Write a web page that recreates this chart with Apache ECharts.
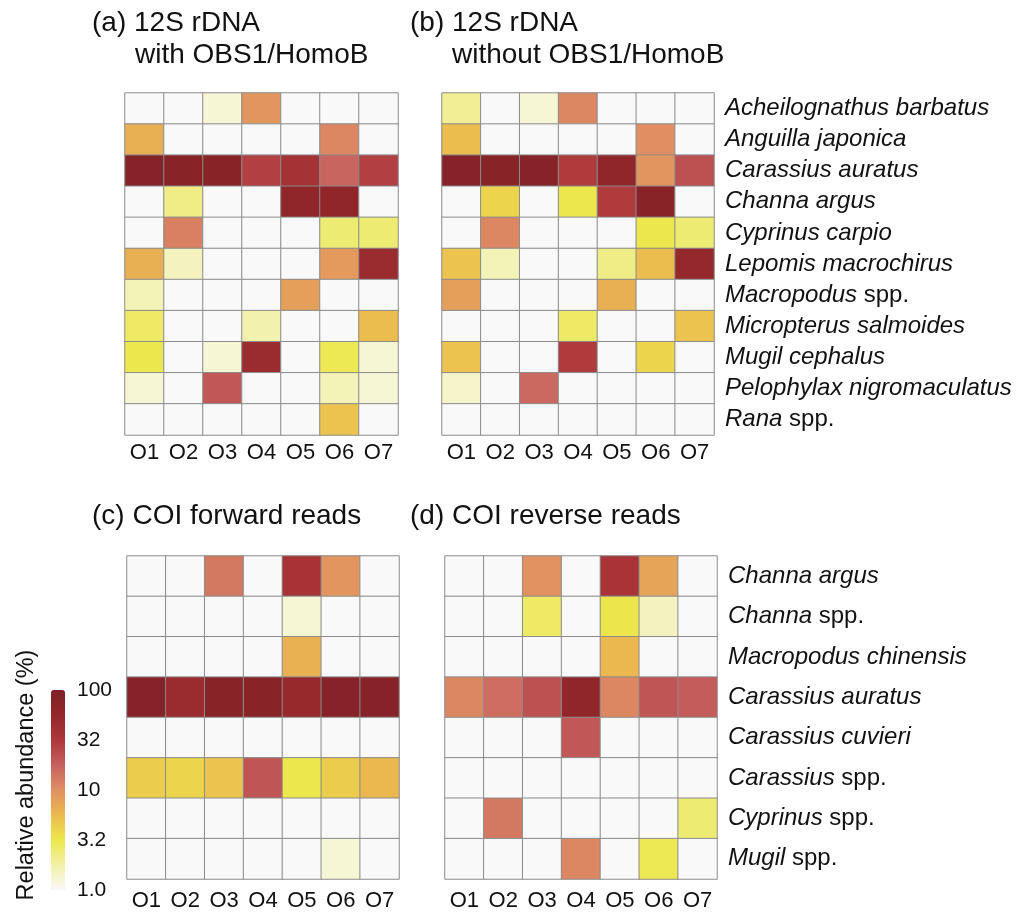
<!DOCTYPE html>
<html>
<head>
<meta charset="utf-8">
<title>Relative abundance heatmaps</title>
<script src="https://cdn.jsdelivr.net/npm/echarts@6/dist/echarts.min.js"></script>
<style>
  html, body { margin: 0; padding: 0; background: #ffffff; }
  #chart { width: 1031px; height: 915px; }
</style>
</head>
<body>
<div id="chart"></div>
<script>
// Sampling sites (columns)
const sampleLabels = ['O1', 'O2', 'O3', 'O4', 'O5', 'O6', 'O7'];

// Taxa detected with the 12S rDNA primers (rows, top to bottom)
const species12S = [
  'Acheilognathus barbatus', 'Anguilla japonica', 'Carassius auratus', 'Channa argus',
  'Cyprinus carpio', 'Lepomis macrochirus', 'Macropodus spp.', 'Micropterus salmoides',
  'Mugil cephalus', 'Pelophylax nigromaculatus', 'Rana spp.'
];

// Taxa detected with the COI primers (rows, top to bottom)
const speciesCOI = [
  'Channa argus', 'Channa spp.', 'Macropodus chinensis', 'Carassius auratus',
  'Carassius cuvieri', 'Carassius spp.', 'Cyprinus spp.', 'Mugil spp.'
];

// Relative abundance (%) per taxon, one value per site O1..O7 (0 = not detected)
const abund12SWith = [
  [0, 0, 1.3, 9, 0, 0, 0],
  [6.5, 0, 0, 0, 0, 11, 0],
  [80, 75, 78, 28, 38, 17, 28],
  [0, 2.2, 0, 0, 60, 60, 0],
  [0, 12, 0, 0, 0, 2.5, 2.5],
  [6.5, 1.5, 0, 0, 0, 8.5, 48],
  [1.6, 0, 0, 0, 8, 0, 0],
  [2.7, 0, 0, 1.7, 0, 0, 5.5],
  [3.2, 0, 1.3, 48, 0, 3, 1.3],
  [1.3, 0, 20, 0, 0, 1.6, 1.3],
  [0, 0, 0, 0, 0, 5, 0]
];

const abund12SWithout = [
  [2.0, 0, 1.3, 11, 0, 0, 0],
  [5.5, 0, 0, 0, 0, 10, 0],
  [80, 78, 80, 30, 60, 9, 22],
  [0, 4, 0, 3.2, 30, 75, 0],
  [0, 11, 0, 0, 0, 3.2, 2.5],
  [5, 1.6, 0, 0, 2.2, 5.5, 55],
  [8, 0, 0, 0, 6.5, 0, 0],
  [0, 0, 0, 2.7, 0, 0, 5],
  [5, 0, 0, 30, 0, 4, 0],
  [1.4, 0, 16, 0, 0, 0, 0],
  [0, 0, 0, 0, 0, 0, 0]
];

const abundCOIForward = [
  [0, 0, 13, 0, 36, 9, 0],
  [0, 0, 0, 0, 1.3, 0, 0],
  [0, 0, 0, 0, 6.3, 0, 0],
  [80, 48, 75, 75, 52, 80, 80],
  [0, 0, 0, 0, 0, 0, 0],
  [4.5, 4, 5, 21, 3.2, 4.5, 5.8],
  [0, 0, 0, 0, 0, 0, 0],
  [0, 0, 0, 0, 0, 1.3, 0]
];

const abundCOIReverse = [
  [0, 0, 9.5, 0, 35, 7.5, 0],
  [0, 0, 2.7, 0, 3.3, 1.5, 0],
  [0, 0, 0, 0, 5.8, 0, 0],
  [11, 15, 22, 60, 11, 21, 19],
  [0, 0, 0, 20, 0, 0, 0],
  [0, 0, 0, 0, 0, 0, 0],
  [0, 13, 0, 0, 0, 0, 2.5],
  [0, 0, 0, 11, 0, 3, 0]
];

// Colour-bar tick labels (log10 scale from 1 % to 100 %)
const scaleTicks = ['1.0', '3.2', '10', '32', '100'];

const FONT = '"Liberation Sans", Arial, Helvetica, sans-serif';
const TEXT = '#111111';

// Convert a rows x sites table into heatmap triples [site, taxon, log10(%)]
function toCells(table) {
  const cells = [];
  table.forEach((row, r) => {
    row.forEach((v, c) => {
      const lv = v > 0 ? Math.log10(Math.max(1, v)) : 0;
      cells.push([c, r, lv]);
    });
  });
  return cells;
}

// Genus/species names in italics, "spp." upright
function taxonLabel(name) {
  if (name.endsWith(' spp.')) {
    return '{i|' + name.slice(0, -5) + '}{n| spp.}';
  }
  return '{i|' + name + '}';
}

const taxonRich = {
  i: { fontFamily: FONT, fontSize: 24, fontStyle: 'italic', color: TEXT },
  n: { fontFamily: FONT, fontSize: 24, fontStyle: 'normal', color: TEXT }
};

const grids = [
  { left: 125, top: 93, width: 273, height: 342 },
  { left: 442, top: 93, width: 272, height: 342 },
  { left: 127, top: 556, width: 272, height: 323 },
  { left: 445, top: 556, width: 272, height: 323 },
  // colour bar axis
  { left: 51, top: 690, width: 14, height: 200 }
];

const panels = [
  { table: abund12SWith, taxa: species12S, showTaxa: false, xMargin: 7 },
  { table: abund12SWithout, taxa: species12S, showTaxa: true, xMargin: 7 },
  { table: abundCOIForward, taxa: speciesCOI, showTaxa: false, xMargin: 11 },
  { table: abundCOIReverse, taxa: speciesCOI, showTaxa: true, xMargin: 11 }
];

const xAxes = panels.map((p, i) => ({
  type: 'category',
  gridIndex: i,
  data: sampleLabels,
  axisLine: { show: false },
  axisTick: { show: false },
  splitLine: { show: false },
  axisLabel: { fontFamily: FONT, fontSize: 22, color: TEXT, margin: p.xMargin }
}));
xAxes.push({ type: 'value', gridIndex: 4, show: false, min: 0, max: 1 });

const yAxes = panels.map((p, i) => ({
  type: 'category',
  gridIndex: i,
  data: p.taxa,
  inverse: true,
  position: 'right',
  axisLine: { show: false },
  axisTick: { show: false },
  splitLine: { show: false },
  axisLabel: {
    show: p.showTaxa,
    align: 'left',
    margin: 11,
    formatter: taxonLabel,
    rich: taxonRich
  }
}));
yAxes.push({
  type: 'value',
  gridIndex: 4,
  position: 'right',
  min: 0,
  max: 2,
  interval: 0.5,
  axisLine: { show: false },
  axisTick: { show: false },
  splitLine: { show: false },
  axisLabel: {
    margin: 12,
    fontFamily: FONT,
    fontSize: 21,
    color: TEXT,
    formatter: (v) => scaleTicks[Math.round(v / 0.5)]
  }
});

const series = panels.map((p, i) => ({
  type: 'heatmap',
  xAxisIndex: i,
  yAxisIndex: i,
  data: toCells(p.table),
  itemStyle: { borderColor: '#8c8c8c', borderWidth: 1 },
  emphasis: { disabled: true },
  label: { show: false }
}));

const titleStyle = { fontFamily: FONT, fontSize: 28, fontWeight: 'normal', color: TEXT };
function titleAt(text, left, top) {
  return { text: text, left: left, top: top, padding: 0, textStyle: titleStyle };
}

const option = {
  backgroundColor: '#ffffff',
  animation: false,
  title: [
    titleAt('(a) 12S rDNA', 92, 9),
    titleAt('with OBS1/HomoB', 135, 41),
    titleAt('(b) 12S rDNA', 410, 9),
    titleAt('without OBS1/HomoB', 452, 41),
    titleAt('(c) COI forward reads', 92, 502),
    titleAt('(d) COI reverse reads', 410, 502)
  ],
  grid: grids,
  xAxis: xAxes,
  yAxis: yAxes,
  visualMap: {
    type: 'continuous',
    seriesIndex: [0, 1, 2, 3],
    min: 0,
    max: 2,
    show: true,
    calculable: false,
    orient: 'vertical',
    left: 51,
    top: 690,
    padding: 0,
    itemWidth: 14,
    itemHeight: 200,
    text: null,
    showLabel: false,
    inRange: {
      color: ['#f9f9f9', '#f2f0a8', '#ece84c', '#ebba4e', '#e08e62',
              '#c6615f', '#ad373a', '#93272b', '#7e2126']
    }
  },
  graphic: [{
    type: 'text',
    x: 27,
    y: 775,
    rotation: Math.PI / 2,
    style: {
      text: 'Relative abundance (%)',
      fontFamily: FONT,
      fontSize: 23.5,
      fill: TEXT,
      align: 'center',
      verticalAlign: 'middle'
    }
  }],
  series: series
};

const chart = echarts.init(document.getElementById('chart'), null, { renderer: 'canvas' });
chart.setOption(option);
</script>
</body>
</html>
